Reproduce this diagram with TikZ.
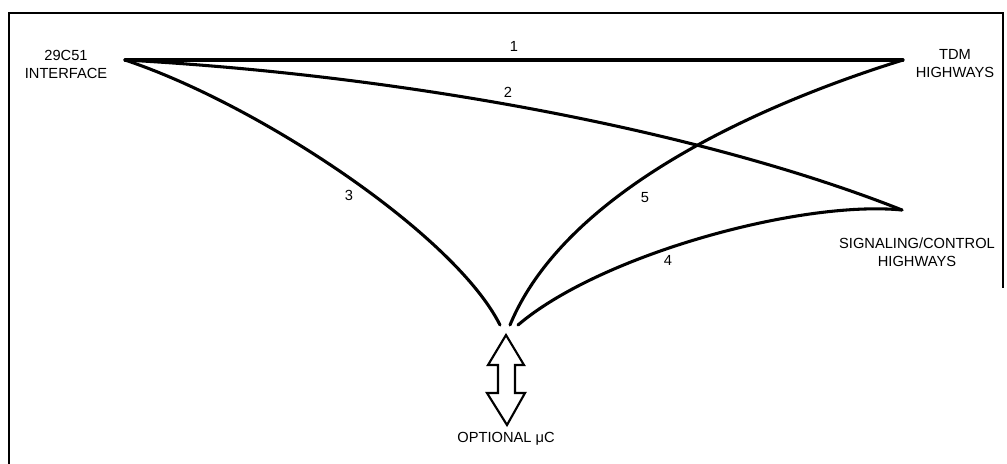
\documentclass[tikz,border=0pt]{standalone}
\usepackage{fontspec}
\setmainfont{Liberation Sans}
\begin{document}
\begin{tikzpicture}[x=0.75pt,y=-0.75pt,
  wire/.style={line width=2.3pt,line cap=round},
  frameline/.style={line width=1.5pt},
  lbl/.style={font=\fontsize{11}{13.5}\selectfont,align=center,inner sep=0pt},
  num/.style={font=\fontsize{11}{13}\selectfont,inner sep=0pt},
  bigarrow/.style={line width=1.6pt,line join=miter,fill=white}]
\useasboundingbox (0,0) rectangle (1007,464);
% frame
\draw[frameline] (9,464) -- (9,13) -- (1003,13) -- (1003,288);
% end points
\coordinate (A) at (125,60);
\coordinate (T) at (903,60);
\coordinate (S) at (902,210);
\coordinate (B3) at (500,325);
\coordinate (B5) at (510,325);
\coordinate (B4) at (518,325);
% labels
\node[lbl] (iface) at (66,64) {29C51\\INTERFACE};
\node[lbl] (tdm) at (955,64) {TDM\\HIGHWAYS};
\node[lbl] (sig) at (917,252) {SIGNALING/CONTROL\\HIGHWAYS};
\node[lbl] (uc) at (506,439) {OPTIONAL μC};
% connectors
\draw[wire] (A) -- node[num,above=5pt] (n1) {1} (T);
\draw[wire] (A) .. controls (400,75) and (700,130) .. (S);
\draw[wire] (A) .. controls (260,105) and (455,235) .. (B3);
\draw[wire] (T) .. controls (790,95) and (570,180) .. (B5);
\draw[wire] (S) .. controls (800,200) and (600,255) .. (B4);
\node[num] (n2) at (508,92) {2};
\node[num] (n3) at (349,195) {3};
\node[num] (n5) at (645,198) {5};
\node[num] (n4) at (668,260) {4};
% double arrow
\draw[bigarrow] (506,335) -- (524,365) -- (515,365) -- (515,393) -- (525,393)
  -- (507,425) -- (487,393) -- (498,393) -- (498,365) -- (488,365) -- cycle;
\end{tikzpicture}
\end{document}
